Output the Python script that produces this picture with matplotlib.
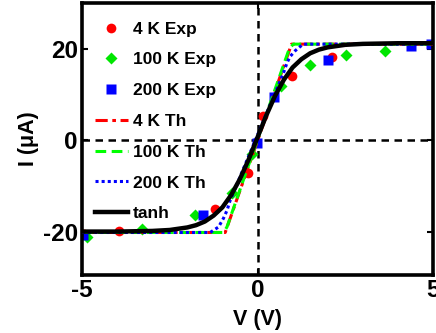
import matplotlib
matplotlib.use("Agg")
import matplotlib.pyplot as plt

plt.rcParams['font.family'] = ['Liberation Sans', 'DejaVu Sans']
plt.rcParams['font.weight'] = 'bold'
plt.rcParams['axes.unicode_minus'] = False

# Experimental data
v_4k = [-4.95, -3.94, -1.21, -0.26, 0.16, 0.98, 2.12]
i_4k = [-20.6, -19.9, -15.1, -7.2, 5.3, 14.1, 18.2]
v_100k = [-4.87, -3.30, -1.78, -0.73, -0.17, 0.67, 1.50, 2.53, 3.62]
i_100k = [-21.2, -19.4, -16.4, -11.6, -3.0, 11.8, 16.5, 18.7, 19.6]
v_200k = [-4.98, -1.56, -0.02, 0.46, 2.01, 4.36, 4.93]
i_200k = [-20.8, -16.4, -0.7, 9.4, 17.6, 20.7, 21.1]

# Theory curves
v_4k_th = [-5, -0.92, 0.97, 5]
i_4k_th = [-20.2, -20.2, 21.0, 21.0]
v_100k_th = [-5, -0.97, -0.87, 0.90, 1.02, 5]
i_100k_th = [-20.2, -20.2, -19.0, 19.9, 21.0, 21.0]
v_200k_th = [-5, -1.35, -1.11, -0.97, -0.87, -0.78, 0.74, 0.84, 0.93, 1.08, 1.30, 5]
i_200k_th = [-20.2, -20.2, -19.0, -17.1, -15.4, -13.2, 14.7, 16.9, 18.3, 19.6, 21.0, 21.0]

# tanh fit
v_tanh = [-5, -4, -3, -2.5, -2, -1.75, -1.5, -1.25, -1, -0.75, -0.5, -0.25, 0,
          0.25, 0.5, 0.75, 1, 1.25, 1.5, 1.75, 2, 2.5, 3, 4, 5]
i_tanh = [-20.0, -20.0, -19.86, -19.65, -19.1, -18.6, -17.8, -16.5, -14.7, -12.0, -8.5, -4.2, 0.6,
          5.4, 9.7, 13.2, 15.9, 17.7, 19.0, 19.8, 20.3, 20.85, 21.06, 21.2, 21.2]

xticks = [-5, 0, 5]
yticks = [-20, 0, 20]

fig = plt.figure(figsize=(4.36, 3.33), dpi=100)
ax = fig.add_axes([82/436, (333-275)/333, (433-82)/436, (275-3)/333])

ax.axhline(0, color='black', lw=1.8, dashes=(3, 2.2), zorder=1)
ax.axvline(0, color='black', lw=1.8, dashes=(3, 2.2), zorder=1)

ax.plot(v_4k, i_4k, 'o', color=(1, 0, 0), ms=7, mec='none', label='4 K Exp', zorder=2)
ax.plot(v_100k, i_100k, 'D', color=(0, 0.9, 0), ms=6.5, mec='none', label='100 K Exp', zorder=2)
ax.plot(v_200k, i_200k, 's', color=(0, 0, 1), ms=7, mec='none', label='200 K Exp', zorder=2)

ax.plot(v_4k_th, i_4k_th, color=(1, 0, 0), lw=2.2, dashes=(4, 1.5, 1.2, 1.5), label='4 K Th', zorder=3)
ax.plot(v_100k_th, i_100k_th, color=(0, 1, 0), lw=2.2, dashes=(3.5, 1.8), label='100 K Th', zorder=3)
ax.plot(v_200k_th, i_200k_th, color=(0, 0, 1), lw=2.2, dashes=(1, 1), label='200 K Th', zorder=3)
ax.plot(v_tanh, i_tanh, color='black', lw=3.2, label='tanh', zorder=4)

ax.set_xlim(-5, 5)
ax.set_ylim(-29.5, 30)
ax.set_xticks(xticks)
ax.set_yticks(yticks)
ax.tick_params(direction='in', length=4, width=1.5, labelsize=17.5, pad=3,
               top=True, right=True)
for lab in ax.get_xticklabels() + ax.get_yticklabels():
    lab.set_fontweight('bold')
for s in ax.spines.values():
    s.set_linewidth(2.6)

ax.set_xlabel('V (V)', fontsize=15.5, fontweight='bold', labelpad=5)
ax.set_ylabel('I (\u03bcA)', fontsize=15.5, fontweight='bold', labelpad=3)

leg = ax.legend(loc='upper left', bbox_to_anchor=(0.037, 0.932), frameon=False,
                fontsize=12.5, numpoints=1, handlelength=1.9, handletextpad=0.3,
                labelspacing=0.9, borderpad=0, borderaxespad=0)
for t in leg.get_texts():
    t.set_fontweight('bold')

fig.savefig('out.png', dpi=100)
